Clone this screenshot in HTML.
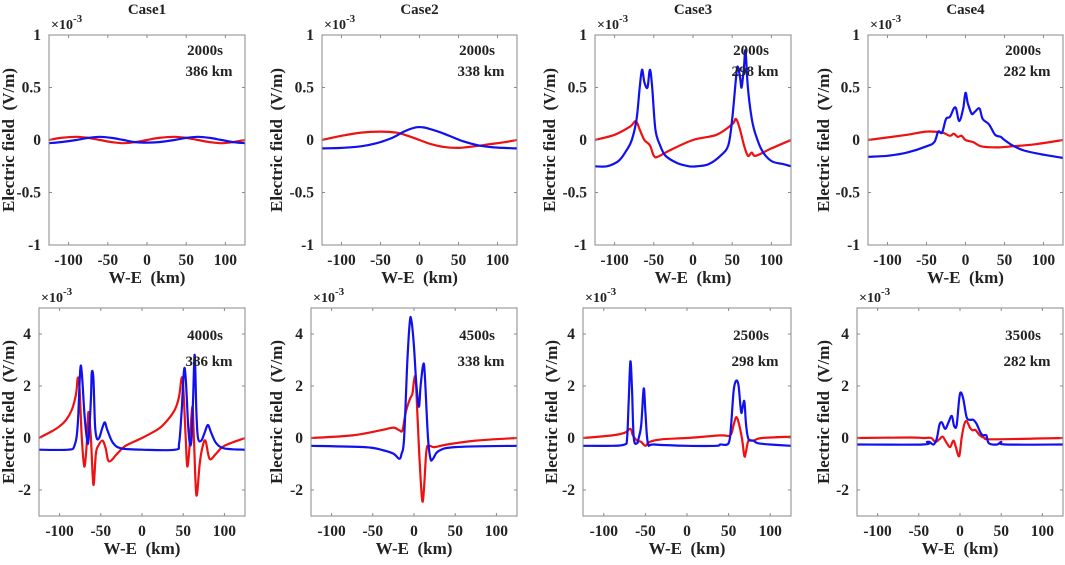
<!DOCTYPE html>
<html><head><meta charset="utf-8">
<style>
html,body{margin:0;padding:0;background:#fff;}
svg text{font-family:"Liberation Serif",serif;font-weight:bold;fill:#222;white-space:pre;}
</style></head>
<body>
<svg id="fig" width="1065" height="560" xmlns="http://www.w3.org/2000/svg"></svg>
<script>
// ---- data (values in 1e-3 V/m, x in km) ----
const c1tBlueX=[-125,-110,-90,-75,-60,-45,-30,-15,0,15,35,50,65,80,95,110,125];
const c1tBlueY=[-0.03,-0.02,0,0.02,0.03,0.02,0,-0.02,-0.025,-0.02,0,0.02,0.03,0.02,0,-0.02,-0.03];
const c1tRedX=[-125,-110,-90,-75,-60,-45,-30,-15,0,15,35,50,65,80,95,110,125];
const c1tRedY=[0,0.02,0.03,0.02,0,-0.02,-0.03,-0.02,0,0.02,0.03,0.02,0,-0.02,-0.03,-0.02,0];
const c2tRedX=[-125,-100,-75,-50,-30,-15,0,15,30,50,70,90,110,125];
const c2tRedY=[0,0.04,0.07,0.08,0.07,0.04,0,-0.04,-0.065,-0.075,-0.06,-0.04,-0.02,0];
const c2tBlueX=[-125,-100,-75,-55,-35,-20,-5,5,20,35,55,75,95,125];
const c2tBlueY=[-0.08,-0.075,-0.06,-0.03,0.02,0.08,0.12,0.12,0.09,0.05,-0.01,-0.05,-0.07,-0.08];
const c3tBlueX=[-125,-110,-95,-85,-78,-72,-68,-65,-62,-58,-55,-52,-48,-42,-35,-20,-5,5,20,35,45,50,55,57,60,62,65,67,70,75,80,88,100,115,125];
const c3tBlueY=[-0.25,-0.25,-0.2,-0.1,0,0.2,0.5,0.67,0.55,0.5,0.67,0.5,0.1,-0.05,-0.15,-0.22,-0.25,-0.25,-0.23,-0.15,-0.05,0.2,0.6,0.7,0.6,0.5,0.7,0.85,0.5,0.2,0.05,-0.1,-0.2,-0.23,-0.25];
const c3tRedX=[-125,-100,-80,-73,-68,-62,-55,-50,-45,-30,0,30,50,55,60,65,70,75,80,100,125];
const c3tRedY=[0,0.05,0.13,0.18,0.1,0,-0.05,-0.15,-0.16,-0.1,0,0.05,0.15,0.2,0.1,-0.05,-0.15,-0.12,-0.15,-0.08,0];
const c4tBlueX=[-125,-100,-75,-50,-40,-35,-30,-25,-20,-15,-12,-8,-3,0,3,8,12,18,22,30,38,45,50,60,75,100,125];
const c4tBlueY=[-0.16,-0.15,-0.12,-0.06,-0.02,0.08,0.07,0.2,0.22,0.3,0.3,0.18,0.3,0.45,0.35,0.25,0.27,0.3,0.2,0.15,0.05,0.03,0,-0.05,-0.1,-0.14,-0.17];
const c4tRedX=[-125,-75,-50,-30,-20,-15,-10,-5,0,10,20,40,60,90,125];
const c4tRedY=[0,0.05,0.08,0.07,0.04,0.06,0.03,0.04,0,-0.02,-0.06,-0.07,-0.06,-0.04,0];
const c1bBlueX=[-125,-90,-82,-78,-75,-73,-70,-67,-65,-62,-61,-59,-57,-55,-52,-48,-45,-42,-35,-25,0,40,45,48,51,53,56,58,60,62,64,66,68,72,76,80,84,90,100,125];
const c1bBlueY=[-0.45,-0.45,-0.3,0.5,2.6,2.5,1,0,-0.1,1.5,2.5,2.3,0.5,0,0,0.4,0.6,0.3,-0.2,-0.4,-0.45,-0.45,-0.2,1,2.6,2.3,0.5,-0.2,-0.1,1.5,3.2,1,0,-0.1,0.2,0.5,0.2,-0.2,-0.4,-0.45];
const c1bRedX=[-125,-110,-100,-92,-85,-80,-78,-76,-73,-70,-67,-65,-62,-59,-56,-53,-48,-44,-40,-30,-20,0,20,30,40,45,48,50,53,55,58,61,63,66,70,73,77,82,90,100,125];
const c1bRedY=[0,0.25,0.45,0.7,1.1,1.7,2.3,2,0,-1.1,-0.2,1,0,-1.8,-0.6,-0.3,-0.1,-0.4,-0.9,-0.6,-0.3,0,0.35,0.65,1.1,1.6,2.3,2,0,-1.1,-0.2,1.2,0,-2.2,-1,-0.4,-0.1,-0.8,-0.6,-0.3,0];
const c2bBlueX=[-125,-60,-40,-25,-18,-15,-12,-8,-5,-3,0,3,6,8,11,13,17,20,23,30,50,125];
const c2bBlueY=[-0.3,-0.35,-0.45,-0.6,-0.8,-0.6,0,3,4.5,4.5,3.5,2,1.2,2,2.8,2.5,0,-0.8,-0.8,-0.5,-0.35,-0.3];
const c2bRedX=[-125,-75,-40,-25,-18,-14,-10,-5,-2,0,2,4,7,10,12,15,18,25,40,75,125];
const c2bRedY=[0,0.1,0.3,0.4,0.3,0.3,1,1.5,1.7,2.2,2.3,1,-1,-2.4,-2,-0.5,-0.3,-0.35,-0.25,-0.1,0];
const c3bBlueX=[-125,-90,-75,-72,-70,-68,-66,-64,-60,-58,-55,-52,-50,-47,-40,0,35,40,50,53,56,59,62,65,67,69,71,74,80,85,100,125];
const c3bBlueY=[-0.3,-0.3,-0.25,0,1.5,2.95,1.8,0,-0.2,0,0.5,1.9,1,-0.2,-0.25,-0.3,-0.3,-0.25,-0.2,0.5,1.8,2.2,2,1,1.2,1.4,0.5,-0.05,-0.1,-0.2,-0.25,-0.3];
const c3bRedX=[-125,-90,-75,-68,-65,-60,-55,-50,-45,-30,0,40,52,56,59,62,66,69,71,74,80,90,125];
const c3bRedY=[0,0.1,0.2,0.35,0.1,-0.1,-0.15,-0.3,-0.15,-0.05,0,0.1,0.1,0.5,0.8,0.6,0,-0.7,-0.5,-0.1,-0.1,0,0.05];
const c4bBlueX=[-125,-45,-40,-37,-32,-28,-25,-22,-18,-14,-10,-7,-4,-1,1,4,8,12,16,20,25,28,32,35,45,50,55,125];
const c4bBlueY=[-0.25,-0.25,-0.15,-0.15,-0.25,0,0.5,0.6,0.35,0.6,0.85,0.45,0.5,1.5,1.75,1.5,0.8,0.7,0.7,0.55,0.2,0.1,0.1,-0.2,-0.25,-0.15,-0.25,-0.25];
const c4bRedX=[-125,-60,-45,-35,-30,-25,-21,-16,-12,-8,-5,-1,2,5,8,12,15,19,24,30,40,125];
const c4bRedY=[0,0.02,0,0,-0.15,-0.05,0.05,-0.2,-0.35,-0.1,-0.35,-0.7,0,0.5,0.65,0.4,0.3,0.3,0.1,0,-0.05,0];
const xTicks=[-100,-50,0,50,100];
const yTicksTop=[-1,-0.5,0,0.5,1];
const yTicksBot=[-2,0,2,4];
const titles=["Case1","Case2","Case3","Case4"];
const timesTop=["2000s","2000s","2000s","2000s"];
const timesBot=["4000s","4500s","2500s","3500s"];
const heights=["386 km","338 km","298 km","282 km"];

const NS="http://www.w3.org/2000/svg";
const svg=document.getElementById('fig');
function mk(tag,attrs,parent){const e=document.createElementNS(NS,tag);for(const k in attrs)e.setAttribute(k,attrs[k]);(parent||svg).appendChild(e);return e;}
function smoothPath(P){
  let d='M'+P[0][0].toFixed(1)+','+P[0][1].toFixed(1);
  for(let i=0;i<P.length-1;i++){
    const p0=P[Math.max(0,i-1)],p1=P[i],p2=P[i+1],p3=P[Math.min(P.length-1,i+2)];
    const t=1/6;
    const c1x=p1[0]+(p2[0]-p0[0])*t, c1y=p1[1]+(p2[1]-p0[1])*t;
    const c2x=p2[0]-(p3[0]-p1[0])*t, c2y=p2[1]-(p3[1]-p1[1])*t;
    d+=' C'+c1x.toFixed(1)+','+c1y.toFixed(1)+' '+c2x.toFixed(1)+','+c2y.toFixed(1)+' '+p2[0].toFixed(1)+','+p2[1].toFixed(1);
  }
  return d;
}

const panels=[
 {l:49,r:245,t:35,b:245,ymin:-1,ymax:1,yt:yTicksTop,ylx:14,s:[[c1tRedX,c1tRedY],[c1tBlueX,c1tBlueY]],time:timesTop[0],h:heights[0],title:titles[0],top:true},
 {l:322,r:517,t:35,b:245,ymin:-1,ymax:1,yt:yTicksTop,ylx:282,s:[[c2tRedX,c2tRedY],[c2tBlueX,c2tBlueY]],time:timesTop[1],h:heights[1],title:titles[1],top:true},
 {l:595,r:791,t:35,b:245,ymin:-1,ymax:1,yt:yTicksTop,ylx:555,s:[[c3tRedX,c3tRedY],[c3tBlueX,c3tBlueY]],time:timesTop[2],h:heights[2],title:titles[2],top:true},
 {l:868,r:1063,t:35,b:245,ymin:-1,ymax:1,yt:yTicksTop,ylx:829,s:[[c4tRedX,c4tRedY],[c4tBlueX,c4tBlueY]],time:timesTop[3],h:heights[3],title:titles[3],top:true},
 {l:39,r:245,t:308,b:516,ymin:-3,ymax:5,yt:yTicksBot,ylx:14,s:[[c1bRedX,c1bRedY],[c1bBlueX,c1bBlueY]],time:timesBot[0],h:heights[0],top:false},
 {l:311,r:517,t:308,b:516,ymin:-3,ymax:5,yt:yTicksBot,ylx:282,s:[[c2bRedX,c2bRedY],[c2bBlueX,c2bBlueY]],time:timesBot[1],h:heights[1],top:false},
 {l:583,r:791,t:308,b:516,ymin:-3,ymax:5,yt:yTicksBot,ylx:557,s:[[c3bRedX,c3bRedY],[c3bBlueX,c3bBlueY]],time:timesBot[2],h:heights[2],top:false},
 {l:857,r:1063,t:308,b:516,ymin:-3,ymax:5,yt:yTicksBot,ylx:829,s:[[c4bRedX,c4bRedY],[c4bBlueX,c4bBlueY]],time:timesBot[3],h:heights[3],top:false},
];
const colors=["#ee1111","#1111ee"];
panels.forEach((p,i)=>{
  const g=mk('g',{});
  
  
  const sx=v=>p.l+(v+125)/250*(p.r-p.l);
  const sy=v=>p.b-(v-p.ymin)/(p.ymax-p.ymin)*(p.b-p.t);
  const cp=mk('clipPath',{id:'cp'+i},g);
  mk('rect',{x:p.l,y:p.t,width:p.r-p.l,height:p.b-p.t},cp);
  p.s.forEach((s,k)=>{
    const P=s[0].map((x,j)=>[sx(x),sy(s[1][j])]);
    const pl=mk('path',{d:smoothPath(P),fill:'none',stroke:colors[k],'stroke-width':2.2,'stroke-linejoin':'round','clip-path':'url(#cp'+i+')'},g);
    
    
  });
  const box=mk('rect',{x:p.l,y:p.t,width:p.r-p.l,height:p.b-p.t,fill:'none',stroke:'#888','stroke-width':1},g);
  
  
  xTicks.forEach(v=>{
    const x=sx(v);
    mk('line',{x1:x,x2:x,y1:p.b,y2:p.b-3,stroke:'#888'},g);
    mk('line',{x1:x,x2:x,y1:p.t,y2:p.t+3,stroke:'#888'},g);
    const t=mk('text',{x:x,y:p.b+20,'text-anchor':'middle','font-size':15.5},g);
    t.textContent=v;
    
    
  });
  p.yt.forEach(v=>{
    const y=sy(v);
    mk('line',{x1:p.l,x2:p.l+3,y1:y,y2:y,stroke:'#888'},g);
    mk('line',{x1:p.r,x2:p.r-3,y1:y,y2:y,stroke:'#888'},g);
    const t=mk('text',{x:p.l-8,y:y+5,'text-anchor':'end','font-size':15.5},g);
    t.textContent=v;
    
    
  });
  const xl=mk('text',{x:(p.l+p.r)/2,y:p.b+38,'text-anchor':'middle','font-size':17},g);
  xl.textContent='W-E\u00a0\u00a0(km)';
  
  
  const yc=(p.t+p.b)/2;
  const yl=mk('text',{x:p.ylx,y:yc,'text-anchor':'middle','font-size':17,transform:'rotate(-90 '+p.ylx+' '+yc+')'},g);
  yl.textContent='Electric field\u00a0\u00a0(V/m)';
  
  
  const ex=mk('text',{x:p.l+2,y:p.t-6,'font-size':14,'font-weight':'normal'},g);
  ex.innerHTML='×10<tspan dy="-7" font-size="11">-3</tspan>';
  
  
  const ty=p.top?p.t+20:p.t+32, hy=p.top?p.t+41:p.t+58;
  const tt=mk('text',{x:p.r-40,y:ty,'text-anchor':'middle','font-size':15},g);
  tt.textContent=p.time;
  
  
  const ht=mk('text',{x:p.r-36,y:hy,'text-anchor':'middle','font-size':15},g);
  ht.textContent=p.h;
  
  
  if(p.title){
    const ti=mk('text',{x:(p.l+p.r)/2,y:14,'text-anchor':'middle','font-size':15},g);
    ti.textContent=p.title;
    
    
  }
});
</script>
</body></html>
